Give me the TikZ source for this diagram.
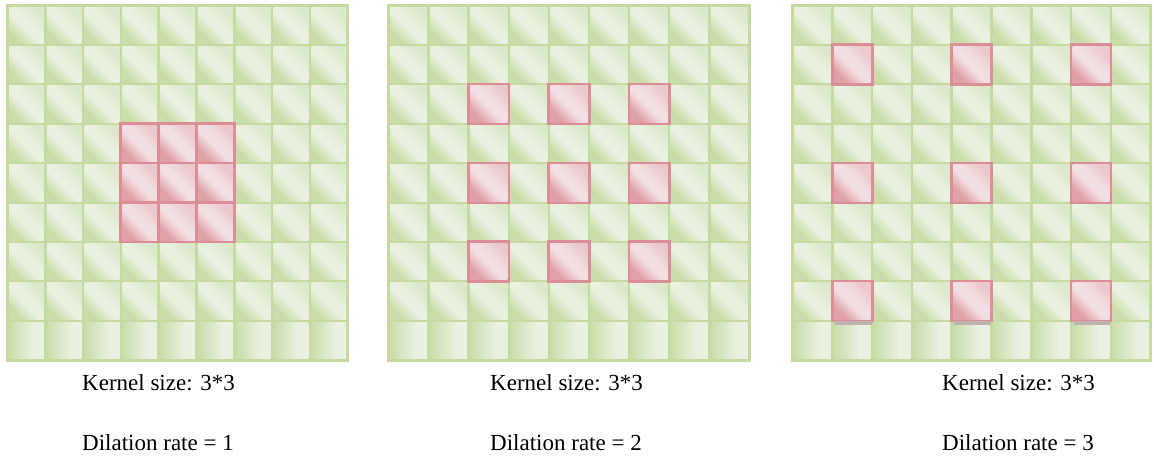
\documentclass[tikz,border=0pt]{standalone}
\usepackage{fontspec}
\setmainfont{Liberation Serif}
\usetikzlibrary{positioning}
\definecolor{GridBg}{HTML}{C6DA9F}
\definecolor{CellLight}{HTML}{EAF1E0}
\definecolor{CellMid}{HTML}{DCE8CB}
\definecolor{CellDark}{HTML}{CADCAA}
\definecolor{KernRim}{HTML}{DB8E96}
\definecolor{KernLight}{HTML}{F2DFE3}
\definecolor{KernMid}{HTML}{EBC8CD}
\definecolor{KernDark}{HTML}{DFA0A8}
\definecolor{ShadowGray}{HTML}{BCB2AE}

% diagonal sheen of a cell: dark lower left, light band, softer upper right
\pgfdeclarehorizontalshading{cellsheen}{100bp}{color(0bp)=(CellDark); color(27bp)=(CellDark); color(46bp)=(CellLight); color(56bp)=(CellLight); color(74bp)=(CellMid); color(100bp)=(CellMid)}
\pgfdeclarehorizontalshading{kernsheen}{100bp}{color(0bp)=(KernDark); color(27bp)=(KernDark); color(46bp)=(KernLight); color(56bp)=(KernLight); color(74bp)=(KernMid); color(100bp)=(KernMid)}
\pgfdeclarehorizontalshading{lastsheen}{100bp}{color(0bp)=(CellDark); color(25bp)=(CellDark); color(60bp)=(CellLight); color(100bp)=(CellLight)}

\tikzset{
    gridbg/.style={fill=GridBg},
    cell/.style={shading=cellsheen, shading angle=45},
    lastcell/.style={shading=lastsheen},
    kernrim/.style={fill=KernRim},
    kerncell/.style={shading=kernsheen, shading angle=45},
    caption/.style={anchor=west, inner sep=0pt, font=\fontsize{23}{28}\selectfont}
}

\begin{document}
\begin{tikzpicture}[x=1pt, y=-1pt]
\useasboundingbox (0,0) rectangle (1154,458);

% === The three 9x9 feature maps, one per dilation rate ===
\foreach \gx/\gw/\rate/\tx/\p in {6/37.8/1/82/a, 387/40.1/2/490/b, 791/39.8/3/942/c} {
    % green base of the map
    \fill[gridbg] (\gx,4) rectangle ++(9*\gw+3, 9*39.4+3);
    % light cells
    \foreach \i in {0,...,8} {
        \foreach \j in {0,...,7} {
            \shade[cell] (\gx+\i*\gw+3, 4+\j*39.4+3) rectangle (\gx+\i*\gw+\gw, 4+\j*39.4+39.4);
        }
        \shade[lastcell] (\gx+\i*\gw+3, 4+8*39.4+3) rectangle (\gx+\i*\gw+\gw, 4+8*39.4+39.4);
    }
    % 3*3 kernel, spread by the dilation rate round the centre cell
    \foreach \a in {-1,0,1} {
        \foreach \b in {-1,0,1} {
            \pgfmathsetmacro{\ki}{4+\a*\rate}
            \pgfmathsetmacro{\kj}{4+\b*\rate}
            \fill[kernrim] (\gx+\ki*\gw, 4+\kj*39.4) rectangle (\gx+\ki*\gw+\gw+3, 4+\kj*39.4+39.4+3);
            \shade[kerncell] (\gx+\ki*\gw+3, 4+\kj*39.4+3) rectangle (\gx+\ki*\gw+\gw, 4+\kj*39.4+39.4);
        }
    }
    % captions
    \node[caption] (kernel-\p) at (\tx,383) {Kernel size: 3*3};
    \node[caption] (rate-\p) at (\tx,443) {Dilation rate = \rate};
}

% Shadow under the bottom kernel row of the last map
\foreach \ki in {1,4,7} {
    \fill[ShadowGray] (791+\ki*39.8+4, 4+8*39.4+2) rectangle (791+\ki*39.8+39.8+1, 4+8*39.4+6);
}

\end{tikzpicture}
\end{document}
